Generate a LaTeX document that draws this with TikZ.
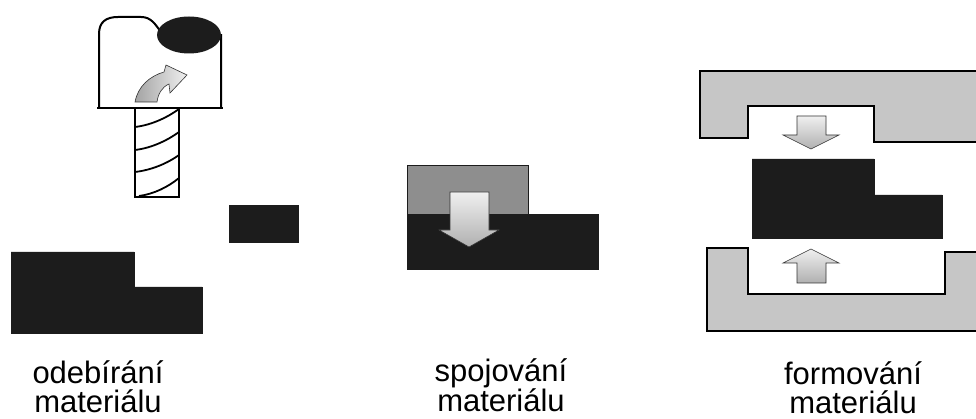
\documentclass[tikz,border=0pt]{standalone}
\usepackage{fontspec}
\setmainfont{Liberation Sans}
\usepackage{xcolor}
\usepackage{tikz}
\usetikzlibrary{arrows.meta,positioning}

\definecolor{partblack}{HTML}{1C1C1C}
\definecolor{moldgray}{HTML}{C6C6C6}
\definecolor{addgray}{HTML}{8E8E8E}

\begin{document}
\begin{tikzpicture}[x=1pt,y=-1pt,
    part/.style={fill=partblack,draw=partblack,line width=0.6pt},
    mold/.style={fill=moldgray,draw=black,line width=1.6pt,line join=miter},
    blockarrow/.style={draw=black!80,line width=0.6pt,top color=gray!12,bottom color=gray!62},
    caption/.style={align=center,inner sep=0pt,font=\fontsize{31}{29}\selectfont}]
    \useasboundingbox[fill=white] (0,0) rectangle (976,419);

    % Milling cutter: head
    \draw[line width=2pt,fill=white] (99,108) -- (99,34) .. controls (99,22) and (106,17) .. (118,17)
        -- (141,17) .. controls (151,17) and (155,24) .. (161,32) -- (221,35) -- (221,108);
    \fill[partblack] (189,35) ellipse [x radius=32, y radius=18.5];
    \draw[line width=2.2pt] (97,108) -- (223,108);
    % Milling cutter: shank with helix
    \draw[line width=2pt] (135,108) rectangle (179,197);
    \foreach \yl/\yr in {127/109,150/132,172/155}
        \draw[line width=1.8pt] (135,\yl) .. controls (152,\yl-2) and (168,\yr+8) .. (179,\yr);
    \draw[line width=1.8pt] (139,196) .. controls (154,194) and (168,187) .. (179,178);
    % rotation arrow
    \draw[draw=black!80,line width=0.6pt,left color=gray!72,right color=gray!12]
        (135,102) .. controls (138,86) and (150,76) .. (164,72) -- (166,65) -- (187,75)
        -- (170,93) -- (169,84) .. controls (162,87) and (158,94) .. (157,102) -- cycle;

    % removed piece and workpiece
    \path[part] (229,205) rectangle (298,242);
    \path[part] (11,252) -- (134,252) -- (134,287) -- (202,287) -- (202,333) -- (11,333) -- cycle;

    % Joining
    \path[fill=addgray,draw=partblack,line width=0.8pt] (407,165) rectangle (528,214);
    \path[part] (407,214) rectangle (598,269);
    \path[blockarrow] (450,192) -- (489,192) -- (489,230) -- (499,230) -- (469,247)
        -- (439,230) -- (450,230) -- cycle;

    % Forming: upper and lower die
    \path[mold] (700,71) -- (980,71) -- (980,142) -- (874,142) -- (874,106) -- (748,106)
        -- (748,138) -- (700,138) -- cycle;
    \path[mold] (707,248) -- (748,248) -- (748,294) -- (945,294) -- (945,252) -- (980,252)
        -- (980,331) -- (707,331) -- cycle;
    \path[part] (752,159) -- (874,159) -- (874,195) -- (942,195) -- (942,238) -- (752,238) -- cycle;
    \path[blockarrow] (797,116) -- (826,116) -- (826,135) -- (839,135) -- (811,149)
        -- (783,135) -- (797,135) -- cycle;
    \path[blockarrow] (797,283) -- (826,283) -- (826,263) -- (839,263) -- (811,249)
        -- (783,263) -- (797,263) -- cycle;

    % Captions
    \node[caption] (removal) at (98,387) {odebírání\\materiálu};
    \node[caption] (joining) at (501,385) {spojování\\materiálu};
    \node[caption] (forming) at (853,388) {formování\\materiálu};
\end{tikzpicture}
\end{document}
